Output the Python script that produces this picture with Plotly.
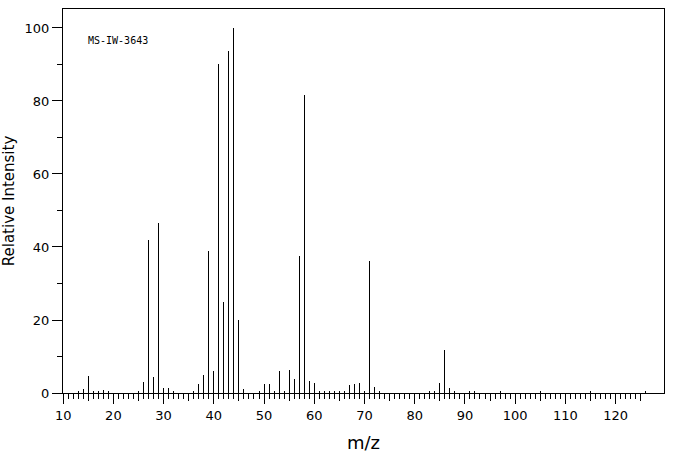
import plotly.graph_objects as go

# m/z values and relative intensities
mz = [13, 14, 15, 16, 17, 18, 19, 25, 26, 27, 28, 29, 30, 31, 32, 36, 37, 38, 39, 40,
      41, 42, 43, 44, 45, 46, 49, 50, 51, 52, 53, 54, 55, 56, 57, 58, 59, 60, 61, 62,
      63, 64, 65, 66, 67, 68, 69, 70, 71, 72, 73, 83, 84, 85, 86, 87, 88, 91, 92, 97,
      105, 115, 126]
intensity = [0.4, 1.0, 4.6, 0.5, 0.5, 0.7, 0.4, 0.5, 2.9, 42.0, 4.3, 46.6, 1.3, 1.5, 0.5, 0.5, 2.6, 5.0, 39.0, 5.9,
             90.2, 24.8, 93.8, 100.0, 19.9, 1.0, 0.6, 2.6, 2.6, 0.6, 5.9, 0.6, 6.4, 3.7, 37.4, 81.7, 3.2, 2.8, 0.4, 0.4,
             0.4, 0.4, 0.4, 0.4, 2.1, 2.6, 2.8, 0.6, 36.2, 1.7, 0.6, 0.6, 0.4, 2.8, 11.9, 1.5, 0.4, 0.3, 0.3, 0.3,
             0.3, 0.3, 0.3]

x_major_ticks = list(range(10, 121, 10))
x_mid_ticks = list(range(15, 126, 10))
x_minor_ticks = [v for v in range(11, 126) if v % 5 != 0]
y_major_ticks = [0, 20, 40, 60, 80, 100]
y_minor_ticks = [10, 30, 50, 70, 90]

label_text = "MS-IW-3643"
x_title = "m/z"
y_title = "Relative Intensity"

X_RANGE = [9.97, 129.64]
Y_RANGE = [0, 105.2]

fig = go.Figure()
fig.add_trace(go.Bar(
    x=mz, y=intensity, width=0.004,
    marker=dict(color="black", line=dict(width=0)),
    hoverinfo="x+y", showlegend=False,
))
# invisible helper so that the second (mid-tick) x axis is drawn
fig.add_trace(go.Scatter(x=[X_RANGE[0]], y=[0], xaxis="x2", mode="markers",
                         marker=dict(opacity=0), hoverinfo="skip", showlegend=False))

tick_font = dict(family="DejaVu Sans", size=13, color="black")

fig.update_layout(
    width=676, height=455,
    margin=dict(l=63, r=12, t=9, b=62),
    paper_bgcolor="white", plot_bgcolor="white",
    bargap=0, bargroupgap=0,
    showlegend=False,
    xaxis=dict(
        range=X_RANGE, showgrid=False, zeroline=False,
        showline=True, linecolor="black", linewidth=1, mirror=True,
        tickmode="array", tickvals=x_major_ticks, ticks="outside", ticklen=10,
        tickcolor="black", tickwidth=1, tickfont=tick_font,
        minor=dict(tickmode="array", tickvals=x_minor_ticks, ticks="outside",
                   ticklen=5, tickcolor="black", tickwidth=1, showgrid=False),
        title=dict(text=x_title, font=dict(family="DejaVu Sans", size=18, color="black"),
                   standoff=14),
        automargin=False,
    ),
    xaxis2=dict(
        range=X_RANGE, overlaying="x", anchor="y", side="bottom",
        showgrid=False, zeroline=False, showline=False,
        tickmode="array", tickvals=x_mid_ticks, ticks="outside", ticklen=7,
        tickcolor="black", tickwidth=1, showticklabels=False,
    ),
    yaxis=dict(
        range=Y_RANGE, showgrid=False, zeroline=False,
        showline=True, linecolor="black", linewidth=1, mirror=True,
        tickmode="array", tickvals=y_major_ticks, ticks="outside", ticklen=10,
        tickcolor="black", tickwidth=1, tickfont=tick_font,
        minor=dict(tickmode="array", tickvals=y_minor_ticks, ticks="outside",
                   ticklen=5, tickcolor="black", tickwidth=1, showgrid=False),
        title=dict(text=y_title, font=dict(family="DejaVu Sans", size=15, color="black"),
                   standoff=6),
        automargin=False,
    ),
    annotations=[dict(
        text=label_text, xref="paper", yref="paper", x=0.039, y=0.917,
        xanchor="left", yanchor="middle", showarrow=False,
        font=dict(family="DejaVu Sans Mono", size=10, color="black"),
    )],
)

fig.write_html("out.html", config={"displayModeBar": False},
               post_script="document.body.style.margin='0';document.body.style.overflow='hidden';")
